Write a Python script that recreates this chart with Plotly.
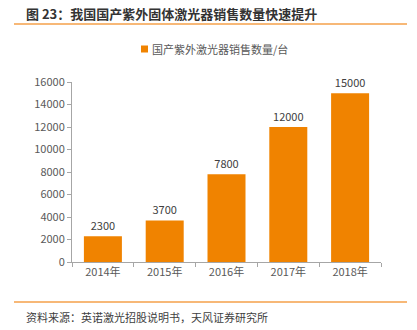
import plotly.graph_objects as go

categories = ["2014年", "2015年", "2016年", "2017年", "2018年"]
values = [2300, 3700, 7800, 12000, 15000]
series_name = "国产紫外激光器销售数量/台"
title_text = "图 23：我国国产紫外固体激光器销售数量快速提升"
source_text = "资料来源：英诺激光招股说明书，天风证券研究所"

FONT = "Noto Sans CJK SC"
ORANGE = "#F08300"
PW, PH, L, T = 309, 180, 72, 82


def px(x):
    return (x - L) / PW


def py(y):
    return 1 - (y - T) / PH


fig = go.Figure()
fig.add_trace(go.Bar(
    x=categories, y=values, name=series_name,
    marker=dict(color=ORANGE, line=dict(width=0)),
    text=[str(v) for v in values], textposition="outside",
    textfont=dict(size=11, color="#404040", family=FONT),
    cliponaxis=False, showlegend=False,
))

fig.update_layout(
    width=417, height=330,
    margin=dict(l=72, r=36, t=82, b=68),
    paper_bgcolor="white", plot_bgcolor="white",
    bargap=0.385,
    font=dict(family=FONT),
    xaxis=dict(showline=True, linecolor="#A6A6A6", linewidth=1,
               ticks="outside", tickson="boundaries", ticklen=4, tickcolor="#A6A6A6",
               tickfont=dict(size=11, color="#595959", family=FONT), showgrid=False),
    yaxis=dict(range=[0, 16000], dtick=2000, showline=True, linecolor="#A6A6A6", linewidth=1,
               ticks="outside", ticklen=4, tickcolor="#A6A6A6", showgrid=False,
               tickfont=dict(size=11, color="#595959", family=FONT), zeroline=False,
               tickformat="d"),
)

# legend (custom, small square + text)
fig.add_shape(type="rect", xref="paper", yref="paper",
              x0=px(141), x1=px(148), y0=py(52.5), y1=py(45.5),
              fillcolor=ORANGE, line=dict(width=0))
fig.add_annotation(text=series_name, xref="paper", yref="paper",
                   x=px(150), y=py(49), xanchor="left", yanchor="middle",
                   showarrow=False, font=dict(size=11, color="#595959", family=FONT))

fig.add_annotation(text="<b>" + title_text + "</b>", xref="paper", yref="paper",
                   x=px(24), y=py(13), xanchor="left", yanchor="middle",
                   showarrow=False, font=dict(size=13, color="#333333", family=FONT))
fig.add_shape(type="line", xref="paper", yref="paper",
              x0=px(14), x1=px(407), y0=py(24), y1=py(24),
              line=dict(color="#F5A04A", width=1.5))
fig.add_shape(type="line", xref="paper", yref="paper",
              x0=px(14), x1=px(407), y0=py(302), y1=py(302),
              line=dict(color="#F5A04A", width=1.5))
fig.add_annotation(text=source_text, xref="paper", yref="paper",
                   x=px(24), y=py(317), xanchor="left", yanchor="middle",
                   showarrow=False, font=dict(size=11, color="#404040", family=FONT))

fig.write_html("out.html")
